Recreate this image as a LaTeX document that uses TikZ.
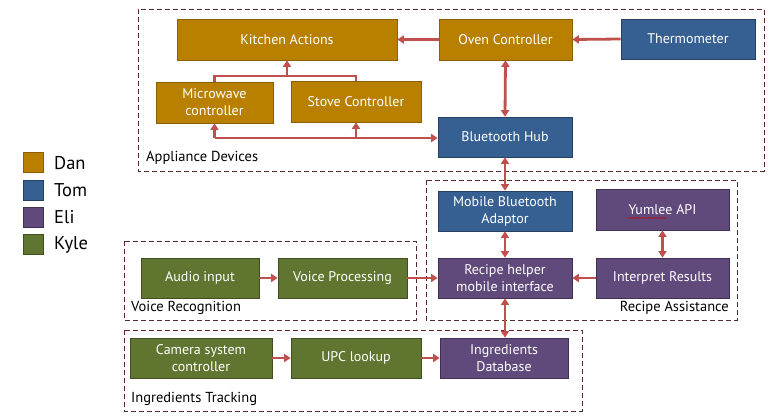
\documentclass[tikz,border=0pt]{standalone}
\usepackage{fontspec}
\setmainfont{PT Sans}
\usetikzlibrary{arrows.meta}
\definecolor{dan}{RGB}{185,128,0}
\definecolor{danb}{RGB}{140,96,0}
\definecolor{tom}{RGB}{55,96,146}
\definecolor{tomb}{RGB}{37,64,98}
\definecolor{eli}{RGB}{96,74,123}
\definecolor{elib}{RGB}{64,49,82}
\definecolor{kyle}{RGB}{96,118,48}
\definecolor{kyleb}{RGB}{64,79,32}
\definecolor{conn}{RGB}{192,80,77}
\definecolor{grp}{RGB}{90,40,40}
\tikzset{
  blk/.style={draw, line width=0.6pt, text=white, font=\fontsize{14}{17}\selectfont,
    align=center, inner sep=1pt, minimum height=40pt},
  dan/.style={blk, fill=dan, draw=danb},
  tom/.style={blk, fill=tom, draw=tomb},
  eli/.style={blk, fill=eli, draw=elib},
  kyle/.style={blk, fill=kyle, draw=kyleb},
  con/.style={draw=conn, line width=2.8pt, -{Triangle[width=8pt,length=6.5pt]}},
  bicon/.style={draw=conn, line width=2.8pt, {Triangle[width=8pt,length=6.5pt]}-{Triangle[width=8pt,length=6.5pt]}},
  plain/.style={draw=conn, line width=2.8pt},
  grpbox/.style={draw=grp, line width=0.9pt, dash pattern=on 5pt off 3pt},
  grplbl/.style={font=\fontsize{14.5}{16}\selectfont, inner sep=0pt},
  legsq/.style={draw, line width=0.6pt, minimum width=20pt, minimum height=20pt, inner sep=0pt},
  leglbl/.style={font=\fontsize{18.5}{20}\selectfont, anchor=west, inner sep=0pt}
}
\begin{document}
\begin{tikzpicture}[x=1pt,y=-1pt]
\useasboundingbox (0,0) rectangle (780,420);
\fill[white] (0,0) rectangle (780,420);
% group boxes
\draw[grpbox] (138,9) rectangle (764,171);
\draw[grpbox] (124,241) rectangle (416,320);
\draw[grpbox] (426,180) rectangle (737,320);
\draw[grpbox] (124,330) rectangle (582,411);
\node[grplbl, anchor=west] (lapp) at (146,158) {Appliance Devices};
\node[grplbl, anchor=west] (lvoice) at (131,308) {Voice Recognition};
\node[grplbl, anchor=east] (lrec) at (729,308) {Recipe Assistance};
\node[grplbl, anchor=west] (ling) at (131,399) {Ingredients Tracking};
% blocks
\node[dan, minimum width=220pt, minimum height=41pt] (kitchen) at (287,39.5) {Kitchen Actions};
\node[dan, minimum width=133pt, minimum height=41pt] (oven) at (505.5,39.5) {Oven Controller};
\node[tom, minimum width=134pt] (thermo) at (688,39) {Thermometer};
\node[dan, minimum width=117pt, minimum height=41pt] (micro) at (214.5,102.5) {Microwave\\controller};
\node[dan, minimum width=130pt, minimum height=41pt] (stove) at (356,101.5) {Stove Controller};
\node[tom, minimum width=134pt] (hub) at (505,137) {Bluetooth Hub};
\node[tom, minimum width=134pt] (mba) at (505,211) {Mobile Bluetooth\\Adaptor};
\node[eli, minimum width=133pt, minimum height=41pt] (yum) at (662.5,209.5) {Yumlee API};
\node[eli, minimum width=134pt] (recipe) at (505,278) {Recipe helper\\mobile interface};
\node[eli, minimum width=133pt] (interp) at (662.5,278) {Interpret Results};
\node[kyle, minimum width=118pt] (audio) at (200,278) {Audio input};
\node[kyle, minimum width=129pt] (voice) at (342.5,278) {Voice Processing};
\node[kyle, minimum width=142pt] (camera) at (201,358) {Camera system\\controller};
\node[kyle, minimum width=130pt] (upc) at (356,358) {UPC lookup};
\node[eli, minimum width=128pt] (ingdb) at (504,358) {Ingredients\\Database};
% squiggly underline under Yumlee
\draw[red!80!black, line width=0.5pt] ([xshift=-35pt,yshift=-8pt]yum.center)
  \foreach \i in {1,...,26} { -- ++(1.5pt,{1pt*(-1)^\i}) };
% connectors
\coordinate (topbus) at (kitchen.south |- 0,76);
\draw[plain] (micro.north) |- (stove.north |- topbus) -- (stove.north);
\draw[con] (topbus) -- (kitchen.south);
\draw[con] (oven.west) -- (kitchen.east);
\draw[con] (thermo.west) -- (oven.east);
\draw[bicon] (oven.south) -- (hub.north);
\coordinate (botbus) at (214.5,138);
\draw[con] (botbus) -- (micro.south);
\draw[con] (botbus) -- (hub.west |- botbus);
\draw[con] (stove.south |- botbus) -- (stove.south);
\draw[bicon] (hub.south) -- (mba.north);
\draw[bicon] (mba.south) -- (recipe.north);
\draw[bicon] (yum.south) -- (interp.north);
\draw[con] (interp.west) -- (recipe.east);
\draw[con] (voice.east) -- (recipe.west);
\draw[con] (audio.east) -- (voice.west);
\draw[bicon] (recipe.south) -- (recipe.south |- ingdb.north);
\draw[con] (camera.east) -- (upc.west);
\draw[con] (upc.east) -- (ingdb.west);
% legend
\node[legsq, fill=dan, draw=danb] (sqdan) at (33,162) {};
\node[legsq, fill=tom, draw=tomb] (sqtom) at (33,190) {};
\node[legsq, fill=eli, draw=elib] (sqeli) at (33,217.5) {};
\node[legsq, fill=kyle, draw=kyleb] (sqkyle) at (33,244.5) {};
\node[leglbl] (ldan) at (54,163) {Dan};
\node[leglbl] (ltom) at (54,190) {Tom};
\node[leglbl] (leli) at (54,217) {Eli};
\node[leglbl] (lkyle) at (54,245) {Kyle};
\end{tikzpicture}
\end{document}
